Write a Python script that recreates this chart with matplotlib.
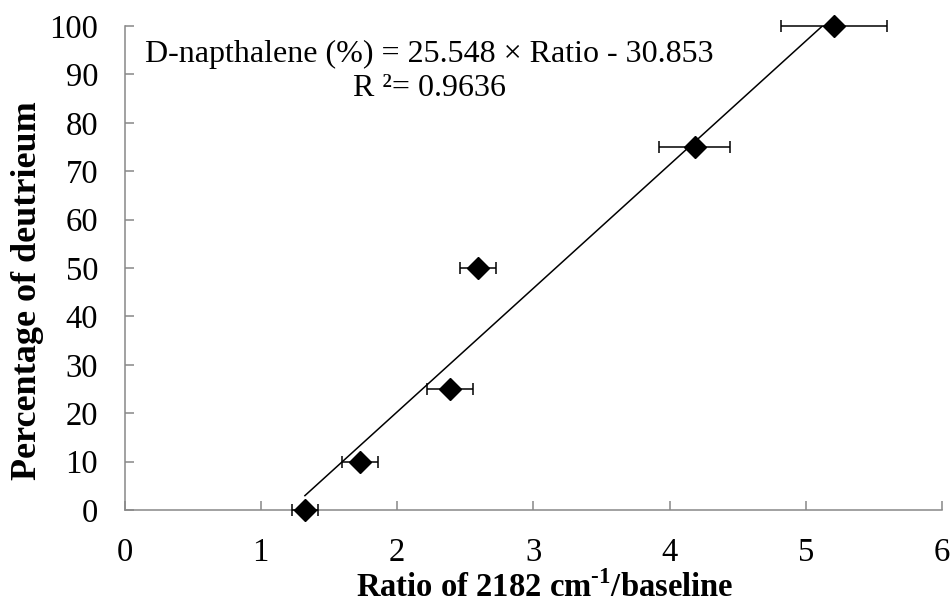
import numpy as np
import matplotlib.pyplot as plt

# data
ratio = [1.324, 1.728, 2.388, 2.594, 4.186, 5.208]
ratio_err = [0.095, 0.13, 0.17, 0.135, 0.26, 0.39]
deuterium = [0, 10, 25, 50, 75, 100]
slope = 25.548
intercept = -30.853
r2 = 0.9636

plt.rcParams['font.family'] = ['Liberation Serif', 'DejaVu Serif']
plt.rcParams['mathtext.fontset'] = 'custom'
plt.rcParams['mathtext.rm'] = 'Liberation Serif:bold'
plt.rcParams['mathtext.bf'] = 'Liberation Serif:bold'

fig = plt.figure(figsize=(9.52, 6.06), dpi=100)
ax = fig.add_axes([0.1308, 0.1584, 0.8587, 0.7987])

# linear trend line
xfit = np.array([min(ratio), max(ratio)])
ax.plot(xfit, slope * xfit + intercept, color='black', lw=1.1)

ax.errorbar(ratio, deuterium, xerr=ratio_err, fmt='D', color='black',
            ms=11, ecolor='black', elinewidth=1.1, capsize=4,
            capthick=1.1, clip_on=False, zorder=3)

ax.set_xlim(0, 6)
ax.set_ylim(0, 100)
ax.set_xticks(range(0, 7))
ax.set_yticks(range(0, 101, 10))

for s in ['top', 'right']:
    ax.spines[s].set_visible(False)
for s in ['left', 'bottom']:
    ax.spines[s].set_color('#888888')
    ax.spines[s].set_linewidth(1.1)
ax.tick_params(direction='in', length=6.5, width=1.1, color='#888888',
               labelsize=23.5)
ax.tick_params(axis='x', pad=20)
ax.tick_params(axis='y', pad=19)

fig.text(0.5725, 0.015, 'Ratio of 2182 cm$^{\\text{-}1}$/baseline',
         fontsize=23.5, fontweight='bold', ha='center', va='baseline')
fig.text(0.0294, 0.5198, 'Percentage of deutrieum', fontsize=26,
         fontweight='bold', rotation=90, ha='center', va='center')

ax.text(0.373, 0.906,
        f'D-napthalene (%) = {slope:.3f} \u00d7 Ratio - {abs(intercept):.3f}\nR \u00b2= {r2:.4f}',
        transform=ax.transAxes, ha='center', va='center', fontsize=23,
        linespacing=1.2, multialignment='center')

fig.savefig('out.png', dpi=100)
